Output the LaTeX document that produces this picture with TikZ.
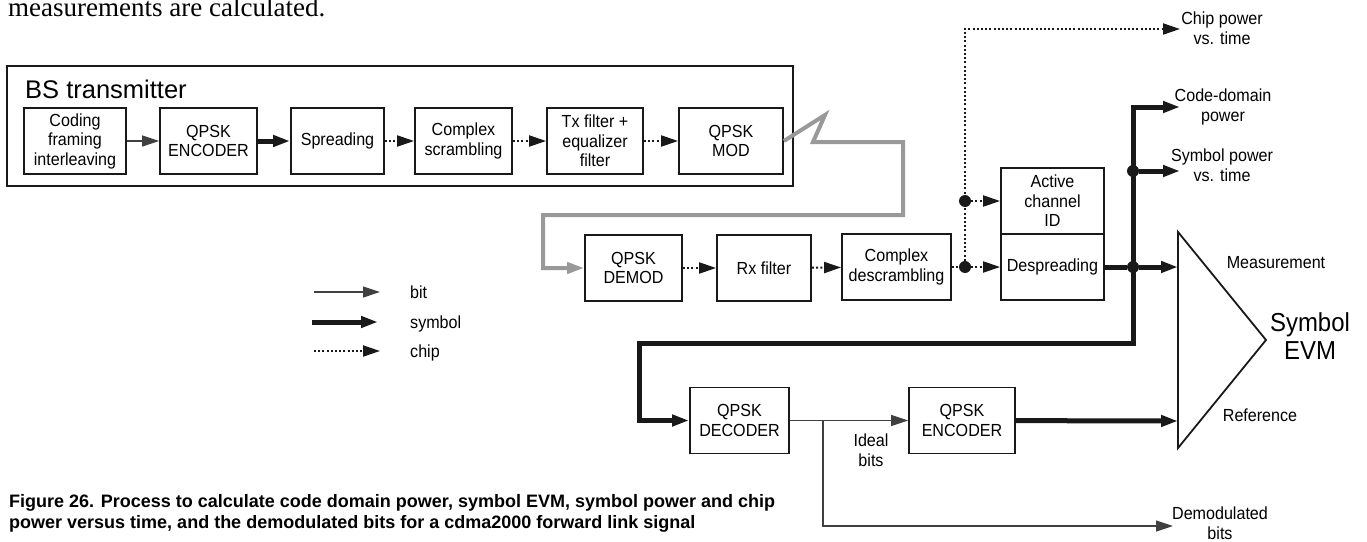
\documentclass[tikz,border=0pt]{standalone}
\usepackage{fontspec}
\setmainfont{Liberation Sans}
\newfontfamily\cond[FakeStretch=0.92]{Liberation Sans}
\newfontfamily\serifface{Liberation Serif}
\usetikzlibrary{arrows.meta}
\begin{document}
\begin{tikzpicture}[x=1pt,y=-1pt,
  boxtext/.style={font=\cond\fontsize{17.5}{19.5}\selectfont},
  blk/.style={boxtext, draw=black!90, line width=1.8pt, inner sep=0pt, minimum height=66pt, align=center},
  lbl/.style={boxtext, inner sep=0pt, align=center},
  bigtext/.style={font=\cond\fontsize{26}{28}\selectfont, inner sep=0pt, align=center},
  captext/.style={font=\bfseries\fontsize{18}{20}\selectfont, inner sep=0pt, anchor=base west},
  tip/.style={-{Triangle[length=17pt,width=11pt]}},
  bitline/.style={line width=1.2pt, draw=black!75, tip},
  symline/.style={line width=5pt, draw=black!90, tip},
  chipline/.style={line width=2pt, draw=black!90, dash pattern=on 2pt off 2.2pt, tip},
  grayline/.style={line width=4pt, draw=black!40, line join=miter, tip},
  dot/.style={circle, fill=black!90, inner sep=0pt, minimum size=12pt},
]
\useasboundingbox (0,0) rectangle (1367,541);

% top text and caption
\node[anchor=base west, inner sep=0pt, font=\serifface\fontsize{27}{30}\selectfont] (toptext) at (8,16) {measurements are calculated.};
\node[captext] (cap1) at (9,507) {Figure 26. Process to calculate code domain power, symbol EVM, symbol power and chip};
\node[captext] (cap2) at (9,528) {power versus time, and the demodulated bits for a cdma2000 forward link signal};

% BS transmitter
\node[draw=black!90, line width=2.4pt, minimum width=786pt, minimum height=120pt, inner sep=0pt] (bs) at (400,126) {};
\node[anchor=base west, inner sep=0pt, font=\fontsize{25.5}{28}\selectfont] (bst) at (25,98) {BS transmitter};

\node[blk, minimum width=102pt] (cod) at (75,141) {Coding\\framing\\interleaving};
\node[blk, minimum width=97pt] (enc1) at (208.5,141) {QPSK\\ENCODER};
\node[blk, minimum width=93pt] (spr) at (337.5,141) {Spreading};
\node[blk, minimum width=97pt] (csc) at (463.5,141) {Complex\\scrambling};
\node[blk, minimum width=96pt] (txf) at (595,141) {Tx filter +\\equalizer\\filter};
\node[blk, minimum width=104pt] (mod) at (731,141) {QPSK\\MOD};

\draw[bitline] (cod) -- (enc1);
\draw[symline] (enc1) -- (spr);
\draw[chipline] (spr) -- (csc);
\draw[chipline] (csc) -- (txf);
\draw[chipline] (txf) -- (mod);

% receiver row
\node[blk, minimum width=97pt] (demod) at (633.5,268) {QPSK\\DEMOD};
\node[blk, minimum width=94pt] (rx) at (764,268) {Rx filter};
\node[blk, minimum width=109pt] (cdes) at (896.5,267) {Complex\\descrambling};

\draw[grayline] (mod.east) -- (825,115) -- (813,142) -- (903,142) -- (903,215) -- (543,215) |- (demod.west);
\draw[chipline] (demod) -- (rx);
\draw[chipline] (rx) -- (cdes);

\node[blk, minimum width=103pt] (act) at (1052.5,201) {Active\\channel\\ID};
\node[blk, minimum width=103pt] (desp) at (1052.5,267) {Despreading};

\node[dot] (d1) at (965,201) {};
\node[dot] (d2) at (965,267) {};
\node[dot] (d4) at (1133,171) {};
\node[dot] (d5) at (1133,267) {};

% output labels
\node[lbl] (chipL) at (1222,28) {Chip power\\vs. time};
\node[lbl] (cdL) at (1223,107) {Code-domain\\power};
\node[lbl] (spL) at (1222,165) {Symbol power\\vs. time};
\node[lbl] (measL) at (1276,263) {Measurement};
\node[lbl] (refL) at (1260,415) {Reference};
\node[bigtext] (evm) at (1310,336) {Symbol\\EVM};
\node[lbl] (demL) at (1220,523) {Demodulated\\bits};
\node[lbl] (ideal) at (871,450) {Ideal\\bits};

\coordinate (chipT) at (1180,29);
\coordinate (cdT) at (1180,107);
\coordinate (spT) at (1180,171);
\coordinate (measT) at (1178,267);
\coordinate (refT) at (1178,421);
\coordinate (demT) at (1173,526);
\coordinate (lp1) at (1133,343);
\coordinate (lp2) at (639.5,343);
\coordinate (br) at (823,421);

% triangle
\coordinate (triA) at (1178,232);
\coordinate (triB) at (1178,448);
\coordinate (triC) at (1266,340);
\draw[line width=1.8pt, draw=black!90, line join=miter] (triA) -- (triC) -- (triB) -- cycle;

% chip branches
\draw[chipline, -] (cdes) -- (d2);
\draw[chipline] (d2) |- (chipT);
\draw[chipline] (d1) -- (d1 -| act.west);
\draw[chipline] (d2) -- (d2 -| desp.west);

% symbol branches
\draw[symline, -] (desp) -- (d5);
\draw[symline] (d5) -- (measT);
\draw[symline] ([yshift=-2.5pt]lp1) |- (cdT);
\draw[symline] (d4) -- (spT);

% bottom row
\node[blk, minimum width=99pt] (dec) at (739.5,420.5) {QPSK\\DECODER};
\node[blk, minimum width=106pt] (enc2) at (962,420.5) {QPSK\\ENCODER};
\draw[symline] (lp1) -- (lp2) |- (dec.west);
\draw[bitline] (dec) -- (enc2);
\draw[bitline] (br) |- (demT);
\draw[symline] (enc2) -- (refT);

% legend
\coordinate (lg1a) at (314,292); \coordinate (lg1b) at (380,292);
\coordinate (lg2a) at (312,322); \coordinate (lg2b) at (378,322);
\coordinate (lg3a) at (314,351); \coordinate (lg3b) at (380,351);
\draw[bitline] (lg1a) -- (lg1b);
\draw[symline] (lg2a) -- (lg2b);
\draw[chipline] (lg3a) -- (lg3b);
\node[lbl, anchor=base west] (lgbit) at (410,298) {bit};
\node[lbl, anchor=base west] (lgsym) at (410,328) {symbol};
\node[lbl, anchor=base west] (lgchip) at (410,357) {chip};
\end{tikzpicture}
\end{document}
